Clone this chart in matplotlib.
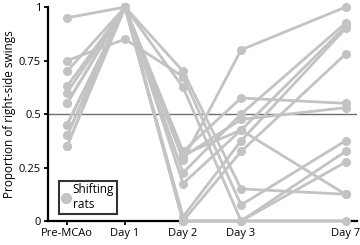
import matplotlib
matplotlib.use('Agg')
import matplotlib.pyplot as plt
from matplotlib.lines import Line2D
import numpy as np

# one value per rat at each time point
time_labels = ['Pre-MCAo', 'Day 1', 'Day 2', 'Day 3', 'Day 7']
time_pos = [0, 1, 2, 3, 4.8]
pre = [0.95, 0.75, 0.70, 0.63, 0.60, 0.55, 0.55, 0.45, 0.45, 0.40, 0.40, 0.35, 0.35]
day1 = [1.0, 0.85, 1.0, 1.0, 1.0, 1.0, 1.0, 1.0, 1.0, 1.0, 1.0, 1.0, 1.0]
day2 = [0.70, 0.675, 0.625, 0.325, 0.31, 0.285, 0.30, 0.225, 0.175, 0.02, 0.0, 0.0, 0.0]
day3 = [0.15, 0.075, 0.0, 0.575, 0.425, 0.80, 0.475, 0.50, 0.425, 0.375, 0.325, 0.0, 0.0]
day7 = [0.125, 0.375, 0.275, 0.55, 0.125, 1.0, 0.53, 0.925, 0.91, 0.90, 0.78, 0.325, 0.0]

plt.rcParams['font.family'] = ['Open Sans', 'DejaVu Sans']

fig = plt.figure(figsize=(3.6, 2.45), dpi=100)
ax = fig.add_axes([0.133, 0.098, 0.859, 0.873])

grey = '#c3c3c3'
values = np.array([pre, day1, day2, day3, day7])
for i in range(values.shape[1]):
    ax.plot(time_pos, values[:, i], color=grey, lw=2, marker='o', ms=5.5,
            clip_on=False, zorder=3)

ax.axhline(0.5, color='#6e6e6e', lw=1, zorder=2)

ax.set_xlim(-0.33, 5.0)
ax.set_ylim(0, 1)
ax.set_xticks(time_pos)
ax.set_xticklabels(time_labels)
ax.set_yticks([0, 0.25, 0.5, 0.75, 1])
ax.set_yticklabels(['0', '0.25', '0.5', '0.75', '1'])
ax.set_ylabel('Proportion of right-side swings', fontsize=8.5, labelpad=2)
ax.tick_params(axis='both', labelsize=8, width=1.3, length=3, pad=2, color='black')
for side in ['top', 'right']:
    ax.spines[side].set_visible(False)
for side in ['left', 'bottom']:
    ax.spines[side].set_linewidth(1.6)

handle = Line2D([], [], color=grey, marker='o', ms=7, lw=0)
leg = ax.legend([handle], ['Shifting\nrats'], loc='lower left',
                bbox_to_anchor=(0.035, 0.035), fontsize=8.5, frameon=True,
                fancybox=False, handlelength=0.8, handletextpad=0.2,
                borderpad=0.2, borderaxespad=0, labelspacing=0.2)
leg.get_frame().set_edgecolor('black')
leg.get_frame().set_linewidth(1.5)
leg.set_zorder(5)

fig.savefig('out.png', dpi=100)
